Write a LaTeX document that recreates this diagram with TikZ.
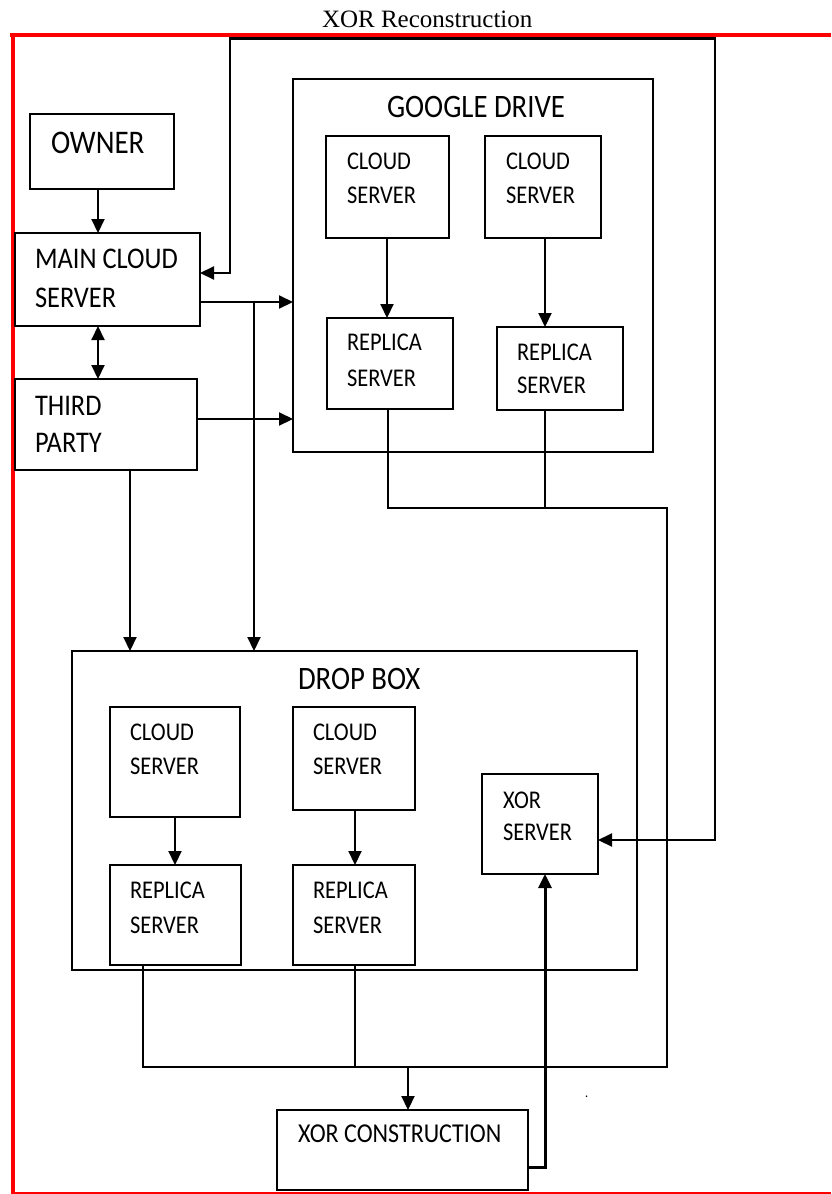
\documentclass[tikz,border=0pt]{standalone}
\usepackage{fontspec}
\setmainfont{Carlito}[FakeStretch=0.88]
\newfontfamily\titlefont{Liberation Serif}
\usetikzlibrary{arrows.meta}
\begin{document}
\begin{tikzpicture}[x=1pt,y=-1pt,
  box/.style={draw=black, line width=1.7pt, rectangle, inner sep=0pt, outer sep=0pt, anchor=north west},
  lbl/.style={inner sep=0pt, outer sep=0pt, anchor=base west, text=black},
  tbig/.style={lbl, font=\fontsize{32.7}{32.7}\selectfont},
  towner/.style={lbl, font=\fontsize{33}{33}\selectfont},
  tmid/.style={lbl, font=\fontsize{30}{30}\selectfont},
  tsml/.style={lbl, font=\fontsize{25.5}{25.5}\selectfont},
  tcon/.style={lbl, font=\fontsize{27.3}{27.3}\selectfont},
  wire/.style={draw=black, line width=1.7pt},
  arr/.style={wire, line width=2.1pt, -{Triangle[length=14pt,width=13pt]}},
  arrb/.style={wire, line width=2.1pt, {Triangle[length=14pt,width=13pt]}-{Triangle[length=14pt,width=13pt]}},
  arrthick/.style={wire, line width=3pt, -{Triangle[length=14pt,width=13pt]}},
  border/.style={draw={rgb,255:red,255;green,0;blue,0}}
]
\useasboundingbox (0,0) rectangle (831,1194);

% title
\node[lbl, font=\titlefont\fontsize{25}{25}\selectfont] (title) at (322,27) {XOR Reconstruction};

% red frame
\draw[border, line width=4pt] (10,35) -- (831,35);
\draw[border, line width=4pt] (13,33) -- (13,1194);
\draw[border, line width=1.6pt] (13,1193) -- (831,1193);

% boxes
\node[box, minimum width=144pt, minimum height=75pt] (owner) at (30,114) {};
\node[box, minimum width=185pt, minimum height=93pt] (main) at (15,233) {};
\node[box, minimum width=182pt, minimum height=91pt] (third) at (15,379) {};
\node[box, minimum width=360pt, minimum height=373pt] (gd) at (293,79) {};
\node[box, minimum width=123pt, minimum height=102pt] (gcs1) at (326,136) {};
\node[box, minimum width=116pt, minimum height=102pt] (gcs2) at (485,136) {};
\node[box, minimum width=126pt, minimum height=91pt] (grep1) at (327,318) {};
\node[box, minimum width=126pt, minimum height=83pt] (grep2) at (497,327) {};
\node[box, minimum width=565pt, minimum height=319pt] (db) at (72,651) {};
\node[box, minimum width=130pt, minimum height=110pt] (dcs1) at (110,707) {};
\node[box, minimum width=122pt, minimum height=103pt] (dcs2) at (293,707) {};
\node[box, minimum width=131pt, minimum height=100pt] (drep1) at (110,865) {};
\node[box, minimum width=122pt, minimum height=100pt] (drep2) at (293,865) {};
\node[box, minimum width=116pt, minimum height=100pt] (xors) at (482,774) {};
\node[box, minimum width=251pt, minimum height=80pt] (xorc) at (277,1110) {};

% texts
\node[towner] (owner-t) at (51,153) {OWNER};
\node[tmid] (main-t1) at (35,268) {MAIN CLOUD};
\node[tmid] (main-t2) at (35,307) {SERVER};
\node[tmid] (third-t1) at (35,415) {THIRD};
\node[tmid] (third-t2) at (35,452) {PARTY};
\node[tbig] (gd-t) at (387,117) {GOOGLE DRIVE};
\node[tsml] (gcs1-t1) at (347,169) {CLOUD};
\node[tsml] (gcs1-t2) at (347,203) {SERVER};
\node[tsml] (gcs2-t1) at (506,169) {CLOUD};
\node[tsml] (gcs2-t2) at (506,203) {SERVER};
\node[tsml] (grep1-t1) at (347,350) {REPLICA};
\node[tsml] (grep1-t2) at (347,386) {SERVER};
\node[tsml] (grep2-t1) at (517,360) {REPLICA};
\node[tsml] (grep2-t2) at (517,393) {SERVER};
\node[tbig] (db-t) at (298,689) {DROP BOX};
\node[tsml] (dcs1-t1) at (130,740) {CLOUD};
\node[tsml] (dcs1-t2) at (130,774) {SERVER};
\node[tsml] (dcs2-t1) at (313,740) {CLOUD};
\node[tsml] (dcs2-t2) at (313,774) {SERVER};
\node[tsml] (drep1-t1) at (130,898) {REPLICA};
\node[tsml] (drep1-t2) at (130,933) {SERVER};
\node[tsml] (drep2-t1) at (313,898) {REPLICA};
\node[tsml] (drep2-t2) at (313,933) {SERVER};
\node[tsml] (xors-t1) at (503,808) {XOR};
\node[tsml] (xors-t2) at (503,840) {SERVER};
\node[tcon] (xorc-t) at (298,1142) {XOR CONSTRUCTION};
\node[lbl, font=\fontsize{14}{14}\selectfont] (dot) at (585,1097) {.};

% helper coordinates
\coordinate (x98) at (98,0);
\coordinate (x130) at (130,0);
\coordinate (x175) at (175,0);
\coordinate (x355) at (355,0);
\coordinate (x387) at (387,0);
\coordinate (x545) at (545,0);
\coordinate (y302) at (0,302);
\coordinate (y419) at (0,419);
\coordinate (lb) at (230,273);
\coordinate (lt) at (230,38.5);
\coordinate (rt) at (715,38.5);
\coordinate (rb) at (715,840);
\coordinate (br) at (254,302);
\coordinate (j1) at (388,508);
\coordinate (j2) at (667,508);
\coordinate (j3) at (667,1067);
\coordinate (j4) at (143,1067);
\coordinate (j5) at (545,508);
\coordinate (j6) at (355,1067);
\coordinate (j7) at (408,1067);
\coordinate (k1) at (545,1167);

% connectors
\draw[arr] (owner.south -| x98) -- (main.north -| x98);
\draw[arrb] (main.south -| x98) -- (third.north -| x98);
\draw[arrb] (main.east |- lb) -- (lb) -- (lt) -- (rt) -- (rb) -- (xors.east |- rb);
\draw[arr] (main.east |- y302) -- (gd.west |- y302);
\draw[arr] (br) -- (db.north -| br);
\draw[arr] (third.east |- y419) -- (gd.west |- y419);
\draw[arr] (third.south -| x130) -- (db.north -| x130);
\draw[arr] (gcs1.south -| x387) -- (grep1.north -| x387);
\draw[arr] (gcs2.south -| x545) -- (grep2.north -| x545);
\draw[arr] (dcs1.south -| x175) -- (drep1.north -| x175);
\draw[arr] (dcs2.south -| x355) -- (drep2.north -| x355);
\draw[wire] (grep1.south -| j1) -- (j1) -- (j2) -- (j3) -- (j4) -- (drep1.south -| j4);
\draw[wire] (grep2.south -| j5) -- (j5);
\draw[wire] (drep2.south -| j6) -- (j6);
\draw[arr] (j7) -- (xorc.north -| j7);
\draw[arrthick] (xorc.east |- k1) -- (k1) -- (xors.south -| k1);
\end{tikzpicture}
\end{document}
